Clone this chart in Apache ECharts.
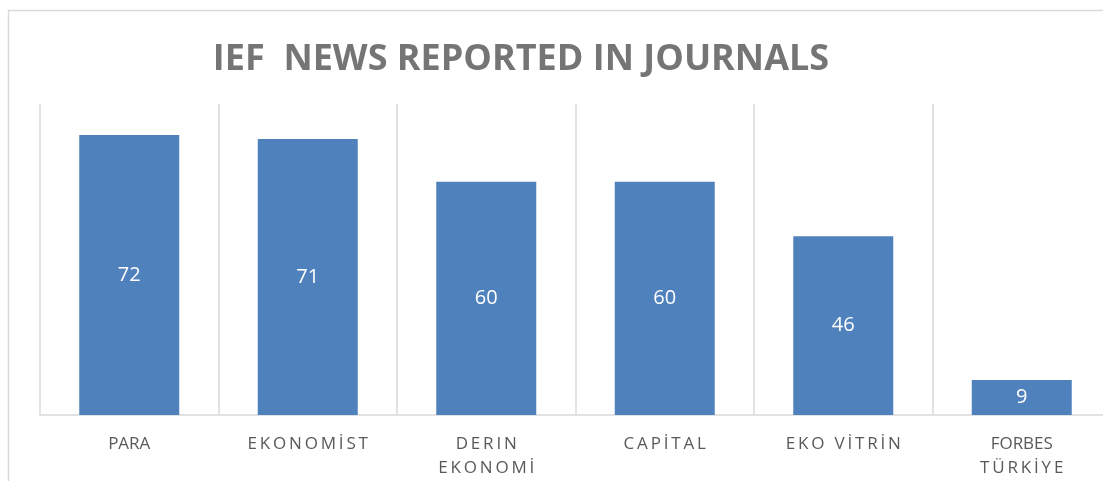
<!DOCTYPE html>
<html>
<head>
<meta charset="utf-8">
<script src="https://cdn.jsdelivr.net/npm/echarts@6/dist/echarts.min.js"></script>
<style>
  html, body { margin: 0; padding: 0; background: #fff; }
  #chart { width: 1103px; height: 481px; }
</style>
</head>
<body>
<div id="chart"></div>
<script>
const journals = ["PARA", "EKONOMİST", "DERIN EKONOMİ", "CAPİTAL", "EKO VİTRİN", "FORBES TÜRKİYE"];
const newsCount = [72, 71, 60, 60, 46, 9];
const yMax = 80;

// spread letters a bit, like the office chart does
const spread = function (word) {
  if (word === "PARA" || word === "FORBES") return word;
  return word.split("").join("\u2009");
};

const chart = echarts.init(document.getElementById("chart"));
chart.setOption({
  animation: false,
  title: {
    text: "IEF  NEWS REPORTED IN JOURNALS",
    left: 516,
    textAlign: "center",
    top: 37,
    textStyle: {
      color: "#757575",
      fontSize: 36,
      fontWeight: "bold",
      fontFamily: "Open Sans",
    },
  },
  graphic: [
    {
      type: "rect",
      shape: { x: 8.5, y: 10.5, width: 1200, height: 600 },
      style: { fill: "none", stroke: "#d9d9d9", lineWidth: 1.5 },
      silent: true,
    },
  ],
  grid: {
    left: 40,
    top: 104,
    width: 1071,
    bottom: 66,
    containLabel: false,
    outerBoundsMode: "none",
  },
  xAxis: {
    type: "category",
    data: journals,
    axisTick: { show: false },
    axisLine: { lineStyle: { color: "#d9d9d9", width: 1.5 } },
    splitLine: { show: true, lineStyle: { color: "#d9d9d9", width: 1.5 } },
    axisLabel: {
      color: "#595959",
      fontSize: 17,
      fontFamily: "Open Sans",
      margin: 17,
      lineHeight: 24,
      interval: 0,
      formatter: function (value) {
        if (value === "DERIN EKONOMİ") return spread("DERIN") + "\n" + spread("EKONOMİ");
        if (value === "FORBES TÜRKİYE") return "FORBES\n" + spread("TÜRKİYE");
        return value.split(" ").map(spread).join("\u2009 \u2009");
      },
    },
  },
  yAxis: {
    type: "value",
    min: 0,
    max: yMax,
    show: false,
    splitLine: { show: false },
  },
  series: [
    {
      type: "bar",
      data: newsCount,
      barWidth: 100,
      itemStyle: { color: "#4f81bd" },
      label: {
        show: true,
        position: "inside",
        color: "#fff",
        fontSize: 20,
        fontFamily: "Open Sans",
      },
    },
  ],
});
</script>
</body>
</html>
